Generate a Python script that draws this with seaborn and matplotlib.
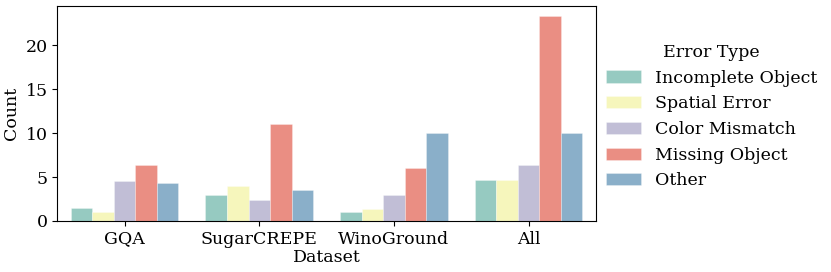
import pandas as pd
import seaborn as sns
import matplotlib.pyplot as plt

# data
datasets = ['GQA', 'SugarCREPE', 'WinoGround', 'All']
error_types = ['Incomplete Object', 'Spatial Error', 'Color Mismatch', 'Missing Object', 'Other']
incomplete = [1.5, 3.0, 1.0, 4.67]
spatial = [1.0, 4.0, 1.33, 4.67]
color_mismatch = [4.5, 2.33, 3.0, 6.33]
missing = [6.33, 11.0, 6.0, 23.33]
other = [4.33, 3.5, 10.0, 10.0]

rows = []
for name, vals in zip(error_types, [incomplete, spatial, color_mismatch, missing, other]):
    for ds, v in zip(datasets, vals):
        rows.append({'Dataset': ds, 'Error Type': name, 'Count': v})
df = pd.DataFrame(rows)

plt.rcParams['font.family'] = ['DejaVu Serif']
plt.rcParams['font.size'] = 12.5

fig = plt.figure(figsize=(8.31, 2.72), dpi=100)
ax = fig.gca()
sns.barplot(data=df, x='Dataset', y='Count', hue='Error Type', palette='Set3',
            order=datasets, hue_order=error_types, ax=ax,
            edgecolor=(1, 1, 1, 0.5), linewidth=0.4)
ax.set_xlabel('Dataset', fontsize=12.5, labelpad=1)
ax.set_ylabel('Count', fontsize=12.5)
ax.tick_params(labelsize=12.5)
ax.legend(title='Error Type', loc='center left', bbox_to_anchor=(0.99, 0.485),
          frameon=False, fontsize=12.5, title_fontsize=12.5)
fig.subplots_adjust(left=0.069, right=0.717, top=0.978, bottom=0.188)
plt.savefig('out.png', dpi=100)
